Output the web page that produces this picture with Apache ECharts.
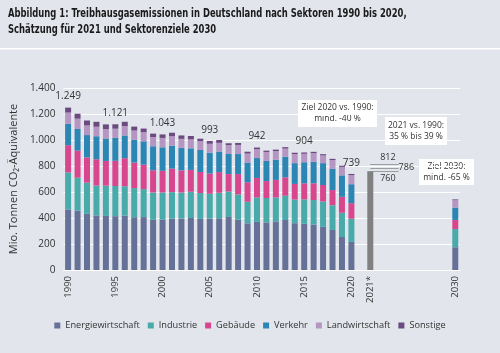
<!DOCTYPE html>
<html>
<head>
<meta charset="utf-8">
<script src="https://cdn.jsdelivr.net/npm/echarts@6/dist/echarts.min.js"></script>
<style>
  html, body { margin: 0; padding: 0; background: #e2e5ec; }
  #chart { width: 500px; height: 353px; }
</style>
</head>
<body>
<div id="chart"></div>
<script>
// Jahre 1990 bis 2020 (Ist-Werte)
const histYears = ['1990','1991','1992','1993','1994','1995','1996','1997','1998','1999',
  '2000','2001','2002','2003','2004','2005','2006','2007','2008','2009',
  '2010','2011','2012','2013','2014','2015','2016','2017','2018','2019','2020'];

// Mio. t CO2-Äq. je Sektor
const energie        = [466,456,432,420,416,414,418,406,407,386,388,395,396,400,393,396,398,408,387,359,370,366,374,385,360,355,350,332,308,254,216];
const industrie      = [284,254,240,230,233,232,226,224,215,210,208,204,200,202,199,191,196,196,195,166,188,188,184,186,182,188,188,195,190,186,178];
const gebaeude       = [210,208,194,202,190,194,216,196,188,171,167,181,170,168,162,155,159,134,156,150,150,130,135,142,120,124,129,127,117,123,120];
const verkehr        = [164,167,172,177,173,176,175,176,180,185,181,177,174,166,169,161,158,155,154,152,153,155,155,158,160,162,165,168,163,165,146];
const landwirtschaft = [ 87, 79, 74, 73, 72, 71, 72, 71, 70, 71, 72, 72, 69, 69, 68, 68, 67, 68, 70, 69, 68, 69, 67, 63, 70, 65, 67, 59, 68, 65, 70];
const sonstige       = [ 38, 38, 38, 38, 36, 34, 33, 30, 28, 26, 27, 27, 26, 26, 19, 22, 22, 14, 15, 14, 13, 10, 11, 11, 10, 10, 10, 10,  9,  9,  9];

// Sektorenziele 2030: Energie, Industrie, Gebäude, Verkehr, Landwirtschaft, Sonstige
const ziel2030 = [175, 140, 70, 95, 58, 5];

// Schätzung 2021
const schaetzung2021 = 760;
const spanne2021 = [812, 786, 760];

// Beschriftete Summen
const labelYears  = ['1990','1995','2000','2005','2010','2015','2020'];
const labelTotals = [1249, 1121, 1043, 993, 942, 904, 739];

const categories = histYears.concat([' ', '2021*', '2022','2023','2024','2025','2026','2027','2028','2029','2030']);
const shownLabels = ['1990','1995','2000','2005','2010','2015','2020','2021*','2030'];

const sektoren = ['Energiewirtschaft','Industrie','Gebäude','Verkehr','Landwirtschaft','Sonstige'];
const farben = ['#667197','#48aaa9','#d8478e','#2c86b4','#b595c1','#6b4a80'];
const werte = [energie, industrie, gebaeude, verkehr, landwirtschaft, sonstige];

const fmt = v => String(v).replace(/\B(?=(\d{3})+(?!\d))/g, '.');
const pad = n => Array(n).fill('-');

const chart = echarts.init(document.getElementById('chart'));
const font = '"Open Sans", sans-serif';

const series = sektoren.map((name, k) => ({
  name: name,
  type: 'bar',
  stack: 'gesamt',
  barWidth: 6,
  itemStyle: { color: farben[k] },
  data: werte[k].concat(pad(10), [ziel2030[k]]),
  label: k === 5 ? {
    show: true,
    position: 'top',
    distance: 6,
    color: '#333',
    fontSize: 10,
    fontFamily: font,
    formatter: p => {
      const i = labelYears.indexOf(p.name);
      return i >= 0 ? fmt(labelTotals[i]) : '';
    }
  } : { show: false }
}));

series.push({
  name: 'Schätzung 2021',
  type: 'bar',
  stack: 'gesamt',
  barWidth: 6,
  itemStyle: { color: '#808080' },
  data: pad(32).concat([schaetzung2021], pad(9)),
  markLine: {
    symbol: 'none',
    silent: true,
    lineStyle: { color: '#8a8a8a', width: 0.8, type: 'solid' },
    label: { color: '#333', fontSize: 9, fontFamily: font },
    data: spanne2021.map((v, i) => [
      { coord: ['2021*', v], label: {
        position: ['insideEndTop', 'end', 'insideEndBottom'][i],
        distance: [3, 0, 3][i],
        formatter: String(v) } },
      { coord: ['2024', v] }
    ])
  }
});

const box = (x, y, w, h, text) => ({
  type: 'group',
  left: x, top: y,
  children: [
    { type: 'rect', shape: { x: 0, y: 0, width: w, height: h }, style: { fill: '#ffffff' } },
    { type: 'text', x: w / 2, y: h / 2, style: {
      text: text, align: 'center', verticalAlign: 'middle',
      fill: '#333', fontSize: 8.5, lineHeight: 11, fontFamily: font } }
  ]
});

const option = {
  backgroundColor: '#e2e5ec',
  animation: false,
  legend: {
    data: sektoren,
    left: 'center',
    bottom: 18,
    icon: 'rect',
    itemWidth: 6,
    itemHeight: 6,
    itemGap: 8,
    textStyle: { fontSize: 9.2, color: '#333', fontFamily: font }
  },
  grid: { left: 55, right: 40, top: 88, bottom: 83 },
  xAxis: {
    type: 'category',
    data: categories,
    axisLine: { lineStyle: { color: '#ffffff' } },
    axisTick: { show: false },
    axisLabel: {
      rotate: 90,
      fontSize: 9.5,
      color: '#333',
      fontFamily: font,
      margin: 6,
      interval: (i, v) => shownLabels.indexOf(v) >= 0
    }
  },
  yAxis: {
    type: 'value',
    min: 0,
    max: 1400,
    interval: 200,
    name: 'Mio. Tonnen CO₂-Äquivalente',
    nameLocation: 'middle',
    nameRotate: 90,
    nameGap: 34,
    nameTextStyle: { fontSize: 11, color: '#333', fontFamily: font },
    axisLabel: { fontSize: 10, color: '#333', fontFamily: font, margin: 8, formatter: v => fmt(v) },
    splitLine: { lineStyle: { color: '#ffffff', width: 1 } }
  },
  graphic: [
    {
      type: 'text',
      x: 8,
      y: 6,
      scaleX: 0.78,
      style: {
        text: 'Abbildung 1: Treibhausgasemissionen in Deutschland nach Sektoren 1990 bis 2020,\nSchätzung für 2021 und Sektorenziele 2030',
        fontSize: 12,
        fontWeight: 'bold',
        lineHeight: 16,
        fill: '#1a1a1a',
        fontFamily: '"DejaVu Sans Condensed", "DejaVu Sans", sans-serif'
      }
    },
    { type: 'rect', left: 0, top: 48, shape: { width: 500, height: 1.5 }, style: { fill: '#ffffff' } },
    box(298, 100, 79, 27, 'Ziel 2020 vs. 1990:\nmind. -40 %'),
    box(385, 117, 62, 28, '2021 vs. 1990:\n35 % bis 39 %'),
    box(419, 159, 55, 26, 'Ziel 2030:\nmind. -65 %')
  ],
  series: series
};

chart.setOption(option);
window.addEventListener('resize', () => chart.resize());
</script>
</body>
</html>
